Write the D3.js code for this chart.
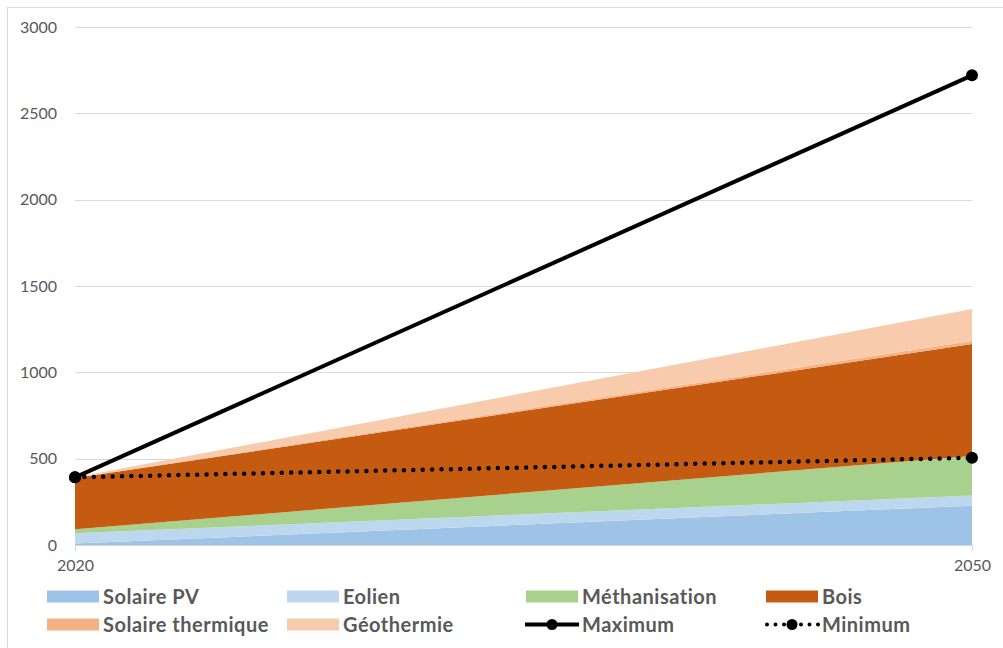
<!DOCTYPE html>
<html>
<head>
<meta charset="utf-8">
<script src="https://cdn.jsdelivr.net/npm/d3@7"></script>
<style>
  html, body { margin: 0; padding: 0; background: #fff; }
  svg { display: block; }
</style>
</head>
<body>
<svg id="chart" width="1003" height="648"></svg>
<script>
// Years on the horizontal axis
const years = [2020, 2050];

// Stacked production by source (GWh)
const solairePV        = [8, 228];
const eolien           = [60, 58];
const methanisation    = [23, 230];
const bois             = [297, 648];
const solaireThermique = [1, 17];
const geothermie       = [3, 186];

// Scenario envelopes
const maximum = [392, 2720];
const minimum = [392, 505];

// Y axis ticks
const yTicks = [0, 500, 1000, 1500, 2000, 2500, 3000];

const seriesNames = ["Solaire PV", "Eolien", "Méthanisation", "Bois", "Solaire thermique", "Géothermie"];
const seriesValues = [solairePV, eolien, methanisation, bois, solaireThermique, geothermie];
const seriesColors = ["#9dc3e6", "#bdd7ee", "#a9d18e", "#c55a11", "#f4b183", "#f8cbad"];

const svg = d3.select("#chart");
const font = "Lato, 'Open Sans', sans-serif";
const textColor = "#595959";

// outer frame
svg.append("rect")
  .attr("x", 7.5).attr("y", 7.5)
  .attr("width", 1010).attr("height", 660)
  .attr("fill", "none").attr("stroke", "#d9d9d9").attr("stroke-width", 1);

const x = d3.scaleLinear().domain([2020, 2050]).range([75, 972]);
const y = d3.scaleLinear().domain([0, 3000]).range([545, 27]);

// gridlines
svg.append("g")
  .selectAll("line")
  .data(yTicks.filter(d => d > 0))
  .join("line")
  .attr("x1", x(2020)).attr("x2", x(2050))
  .attr("y1", d => Math.round(y(d)) + 0.5).attr("y2", d => Math.round(y(d)) + 0.5)
  .attr("stroke", "#d9d9d9").attr("stroke-width", 1);

// stacked areas
const rows = years.map((yr, i) => {
  const r = { year: yr };
  seriesNames.forEach((n, k) => r[n] = seriesValues[k][i]);
  return r;
});
const stack = d3.stack().keys(seriesNames)(rows);
const area = d3.area()
  .x(d => x(d.data.year))
  .y0(d => y(d[0]))
  .y1(d => y(d[1]));

svg.append("g")
  .selectAll("path")
  .data(stack)
  .join("path")
  .attr("d", area)
  .attr("fill", (d, i) => seriesColors[i]);

// x axis
const xAxis = d3.axisBottom(x).tickValues(years).tickFormat(d3.format("d")).tickSize(6).tickPadding(9);
const gx = svg.append("g").attr("transform", `translate(0,${y(0)})`).call(xAxis);
gx.select(".domain").attr("stroke", "#d9d9d9").attr("stroke-width", 1.2);
gx.selectAll(".tick line").attr("stroke", "#d9d9d9");
gx.selectAll(".tick text")
  .attr("font-family", font).attr("font-size", 16).attr("fill", textColor);

// y axis labels
const yAxis = d3.axisLeft(y).tickValues(yTicks).tickSize(0).tickPadding(18).tickFormat(d3.format("d"));
const gy = svg.append("g").attr("transform", `translate(${x(2020)},0)`).call(yAxis);
gy.select(".domain").remove();
gy.selectAll(".tick text")
  .attr("font-family", font).attr("font-size", 16).attr("fill", textColor);

// maximum line
const line = d3.line().x((d, i) => x(years[i])).y(d => y(d));
svg.append("path")
  .attr("d", line(maximum))
  .attr("fill", "none").attr("stroke", "#000").attr("stroke-width", 4);
svg.append("g").selectAll("circle")
  .data(maximum)
  .join("circle")
  .attr("cx", (d, i) => x(years[i])).attr("cy", d => y(d)).attr("r", 6)
  .attr("fill", "#000");

// minimum line (round dots)
svg.append("path")
  .attr("d", line(minimum))
  .attr("fill", "none").attr("stroke", "#000").attr("stroke-width", 4.5)
  .attr("stroke-linecap", "round").attr("stroke-dasharray", "0 9.4");
svg.append("g").selectAll("circle")
  .data(minimum)
  .join("circle")
  .attr("cx", (d, i) => x(years[i])).attr("cy", d => y(d)).attr("r", 6)
  .attr("fill", "#000");

// legend
const legendItems = [
  { name: "Solaire PV", type: "area", color: seriesColors[0] },
  { name: "Eolien", type: "area", color: seriesColors[1] },
  { name: "Méthanisation", type: "area", color: seriesColors[2] },
  { name: "Bois", type: "area", color: seriesColors[3] },
  { name: "Solaire thermique", type: "area", color: seriesColors[4] },
  { name: "Géothermie", type: "area", color: seriesColors[5] },
  { name: "Maximum", type: "solid" },
  { name: "Minimum", type: "dotted" }
];
const colX = [47, 287, 526, 766];
const rowY = [596.5, 624.5];

const lg = svg.append("g").selectAll("g")
  .data(legendItems)
  .join("g")
  .attr("transform", (d, i) => `translate(${colX[i % 4]},${rowY[Math.floor(i / 4)]})`);

lg.filter(d => d.type === "area").append("rect")
  .attr("x", 0).attr("y", -6).attr("width", 52).attr("height", 12)
  .attr("fill", d => d.color);

lg.filter(d => d.type === "solid").append("line")
  .attr("x1", -1).attr("x2", 53).attr("y1", 0).attr("y2", 0)
  .attr("stroke", "#000").attr("stroke-width", 4);
lg.filter(d => d.type === "dotted").append("line")
  .attr("x1", 1).attr("x2", 53).attr("y1", 0).attr("y2", 0)
  .attr("stroke", "#000").attr("stroke-width", 4)
  .attr("stroke-linecap", "round").attr("stroke-dasharray", "0 8.5");
lg.filter(d => d.type !== "area").append("circle")
  .attr("cx", 26).attr("cy", 0).attr("r", 5.5).attr("fill", "#000");

lg.append("text")
  .attr("x", 56).attr("y", 0).attr("dy", "0.35em")
  .attr("font-family", font).attr("font-size", 20).attr("font-weight", "bold")
  .attr("letter-spacing", "0.5px")
  .attr("fill", textColor)
  .text(d => d.name);
</script>
</body>
</html>
